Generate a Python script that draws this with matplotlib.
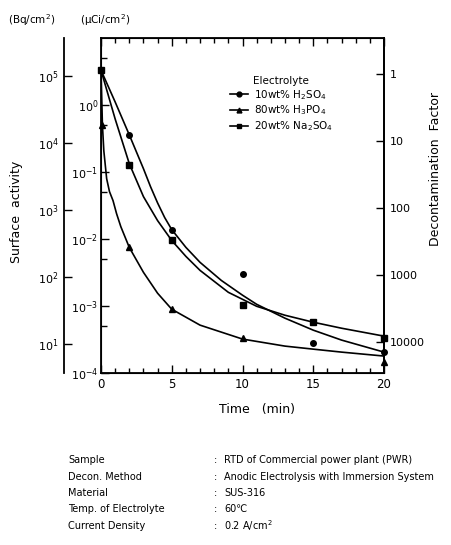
import numpy as np
import matplotlib.pyplot as plt
from matplotlib.ticker import FixedLocator, NullLocator, NullFormatter, MultipleLocator
from matplotlib.lines import Line2D

# measured points (surface activity, uCi/cm2)
t_h2so4 = [0, 2, 5, 10, 15, 20]
a_h2so4 = [3.3, 0.36, 0.0138, 0.0030, 2.8e-4, 2.05e-4]
t_na2so4 = [0, 2, 5, 10, 15, 20]
a_na2so4 = [3.3, 0.128, 0.0095, 1.03e-3, 5.7e-4, 3.3e-4]
t_h3po4 = [0.1, 2, 5, 10, 20]
a_h3po4 = [0.50, 7.7e-3, 8.9e-4, 3.3e-4, 1.46e-4]

# fitted curves as drawn in the figure
tc_h2so4 = [0, 1, 2, 3, 3.5, 4, 4.5, 5, 6, 7, 8.5, 10, 11, 13, 15, 17, 20]
ac_h2so4 = [3.31, 1.11, 0.358, 0.112, 0.0604, 0.0345, 0.0209, 0.0138, 7.5e-3, 4.48e-3,
            2.41e-3, 1.45e-3, 1.06e-3, 6.58e-4, 4.36e-4, 3.10e-4, 2.05e-4]
tc_na2so4 = [0, 1, 2, 3, 4, 5, 6, 7, 9, 11, 13, 15, 17, 20]
ac_na2so4 = [3.31, 0.619, 0.133, 0.0429, 0.0188, 9.5e-3, 5.5e-3, 3.40e-3, 1.60e-3,
             9.9e-4, 7.28e-4, 5.73e-4, 4.66e-4, 3.55e-4]
tc_h3po4 = [0, 0.1, 0.2, 0.4, 0.6, 0.85, 1.1, 1.4, 2, 3, 4, 5, 7, 10, 13, 15, 17, 20]
ac_h3po4 = [3.31, 0.504, 0.207, 0.0794, 0.0509, 0.0374, 0.0239, 0.0153, 7.48e-3,
            3.18e-3, 1.55e-3, 8.95e-4, 5.18e-4, 3.21e-4, 2.52e-4, 2.27e-4, 2.05e-4, 1.79e-4]

labels = ["10wt% H$_2$SO$_4$", "80wt% H$_3$PO$_4$", "20wt% Na$_2$SO$_4$"]
a0 = 2.95          # initial activity for decontamination factor
bq_per_uci = 3.7e4

info_keys = ["Sample", "Decon. Method", "Material", "Temp. of Electrolyte", "Current Density"]
info_vals = ["RTD of Commercial power plant (PWR)", "Anodic Electrolysis with Immersion System",
             "SUS-316", "60\u2103", "0.2 A/cm$^2$"]

W, H = 452, 545
fig = plt.figure(figsize=(W / 100, H / 100), dpi=100)
ax = fig.add_axes([101 / W, 1 - 373 / H, 283 / W, 335 / H])

ax.plot(tc_h2so4, ac_h2so4, color='k', lw=1.2)
ax.plot(tc_na2so4, ac_na2so4, color='k', lw=1.2)
ax.plot(tc_h3po4, ac_h3po4, color='k', lw=1.2)
ax.plot(t_h2so4, a_h2so4, 'o', color='k', ms=4, clip_on=False)
ax.plot(t_h3po4, a_h3po4, '^', color='k', ms=4, clip_on=False)
ax.plot(t_na2so4, a_na2so4, 's', color='k', ms=4, clip_on=False)

ax.set_yscale('log')
ax.set_ylim(1e-4, 10)
ax.set_xlim(0, 20)
ax.set_yticks([1e-4, 1e-3, 1e-2, 1e-1, 1])
ax.set_yticklabels(['$10^{-4}$', '$10^{-3}$', '$10^{-2}$', '$10^{-1}$', '$10^{0}$'])
ax.yaxis.set_minor_locator(FixedLocator([5e-4, 5e-3, 5e-2, 5e-1, 5]))
ax.yaxis.set_minor_formatter(NullFormatter())
ax.tick_params(axis='y', which='major', direction='in', length=6, width=1, labelsize=8, pad=2)
ax.tick_params(axis='y', which='minor', direction='in', length=4, width=1)
ax.tick_params(axis='y', which='both', right=False)
ax.set_xticks([0, 5, 10, 15, 20])
ax.xaxis.set_minor_locator(MultipleLocator(1))
ax.tick_params(axis='x', which='major', direction='in', length=6, width=1, top=True, labelsize=8.5)
ax.tick_params(axis='x', which='minor', direction='in', length=3.5, width=1, top=True)
ax.set_xlabel("Time   (min)", fontsize=9)
ax.xaxis.set_label_coords(0.55, -0.09)
for s in ax.spines.values():
    s.set_linewidth(1.3)

# Bq/cm2 axis
ax_bq = ax.twinx()
ax_bq.set_yscale('log')
ax_bq.set_ylim(1e-4 * bq_per_uci, 10 * bq_per_uci)
ax_bq.yaxis.tick_left()
ax_bq.yaxis.set_label_position('left')
ax_bq.spines['left'].set_position(('outward', 37 * 0.72))
ax_bq.spines['left'].set_linewidth(1.3)
for k in ['right', 'top', 'bottom']:
    ax_bq.spines[k].set_visible(False)
ax_bq.set_yticks([1e1, 1e2, 1e3, 1e4, 1e5])
ax_bq.set_yticklabels(['$10^{1}$', '$10^{2}$', '$10^{3}$', '$10^{4}$', '$10^{5}$'])
ax_bq.yaxis.set_minor_locator(NullLocator())
ax_bq.tick_params(axis='y', direction='in', length=6, width=1, labelsize=8, pad=4)
ax_bq.set_ylabel("Surface  activity", fontsize=9)
ax_bq.yaxis.set_label_coords(-0.275, 0.48)

# decontamination factor axis
ax_df = ax.twinx()
ax_df.set_yscale('log')
ax_df.set_ylim(a0 / 1e-4, a0 / 10)
ax_df.spines['right'].set_linewidth(1.3)
ax_df.set_yticks([1, 10, 100, 1000, 10000])
ax_df.set_yticklabels(['1', '10', '100', '1000', '10000'])
ax_df.yaxis.set_minor_locator(NullLocator())
ax_df.tick_params(axis='y', direction='in', length=6, width=1, labelsize=8, pad=4)
ax_df.set_ylabel("Decontamination  Factor", fontsize=9)
ax_df.yaxis.set_label_coords(1.16, 0.61)

handles = [Line2D([], [], color='k', marker='o', ms=3.5, lw=1.2),
           Line2D([], [], color='k', marker='^', ms=3.5, lw=1.2),
           Line2D([], [], color='k', marker='s', ms=3.5, lw=1.2)]
leg = ax_df.legend(handles, labels, title="Electrolyte", loc='upper left',
                   bbox_to_anchor=(0.44, 0.9), frameon=False, fontsize=7.5,
                   title_fontsize=7.5, handlelength=1.8, handletextpad=0.5,
                   labelspacing=0.2, borderaxespad=0)

fig.text(8 / W, 1 - 20 / H, "(Bq/cm$^2$)", fontsize=7.5, va='center')
fig.text(80 / W, 1 - 20 / H, "(\u00b5Ci/cm$^2$)", fontsize=7.5, va='center')

ys = [460, 477, 493, 509, 526]
for key, val, y in zip(info_keys, info_vals, ys):
    fig.text(68 / W, 1 - y / H, key, fontsize=7, va='center')
    fig.text(214 / W, 1 - y / H, ":", fontsize=7, va='center')
    fig.text(224 / W, 1 - y / H, val, fontsize=7, va='center')

fig.savefig("out.png", dpi=100)
